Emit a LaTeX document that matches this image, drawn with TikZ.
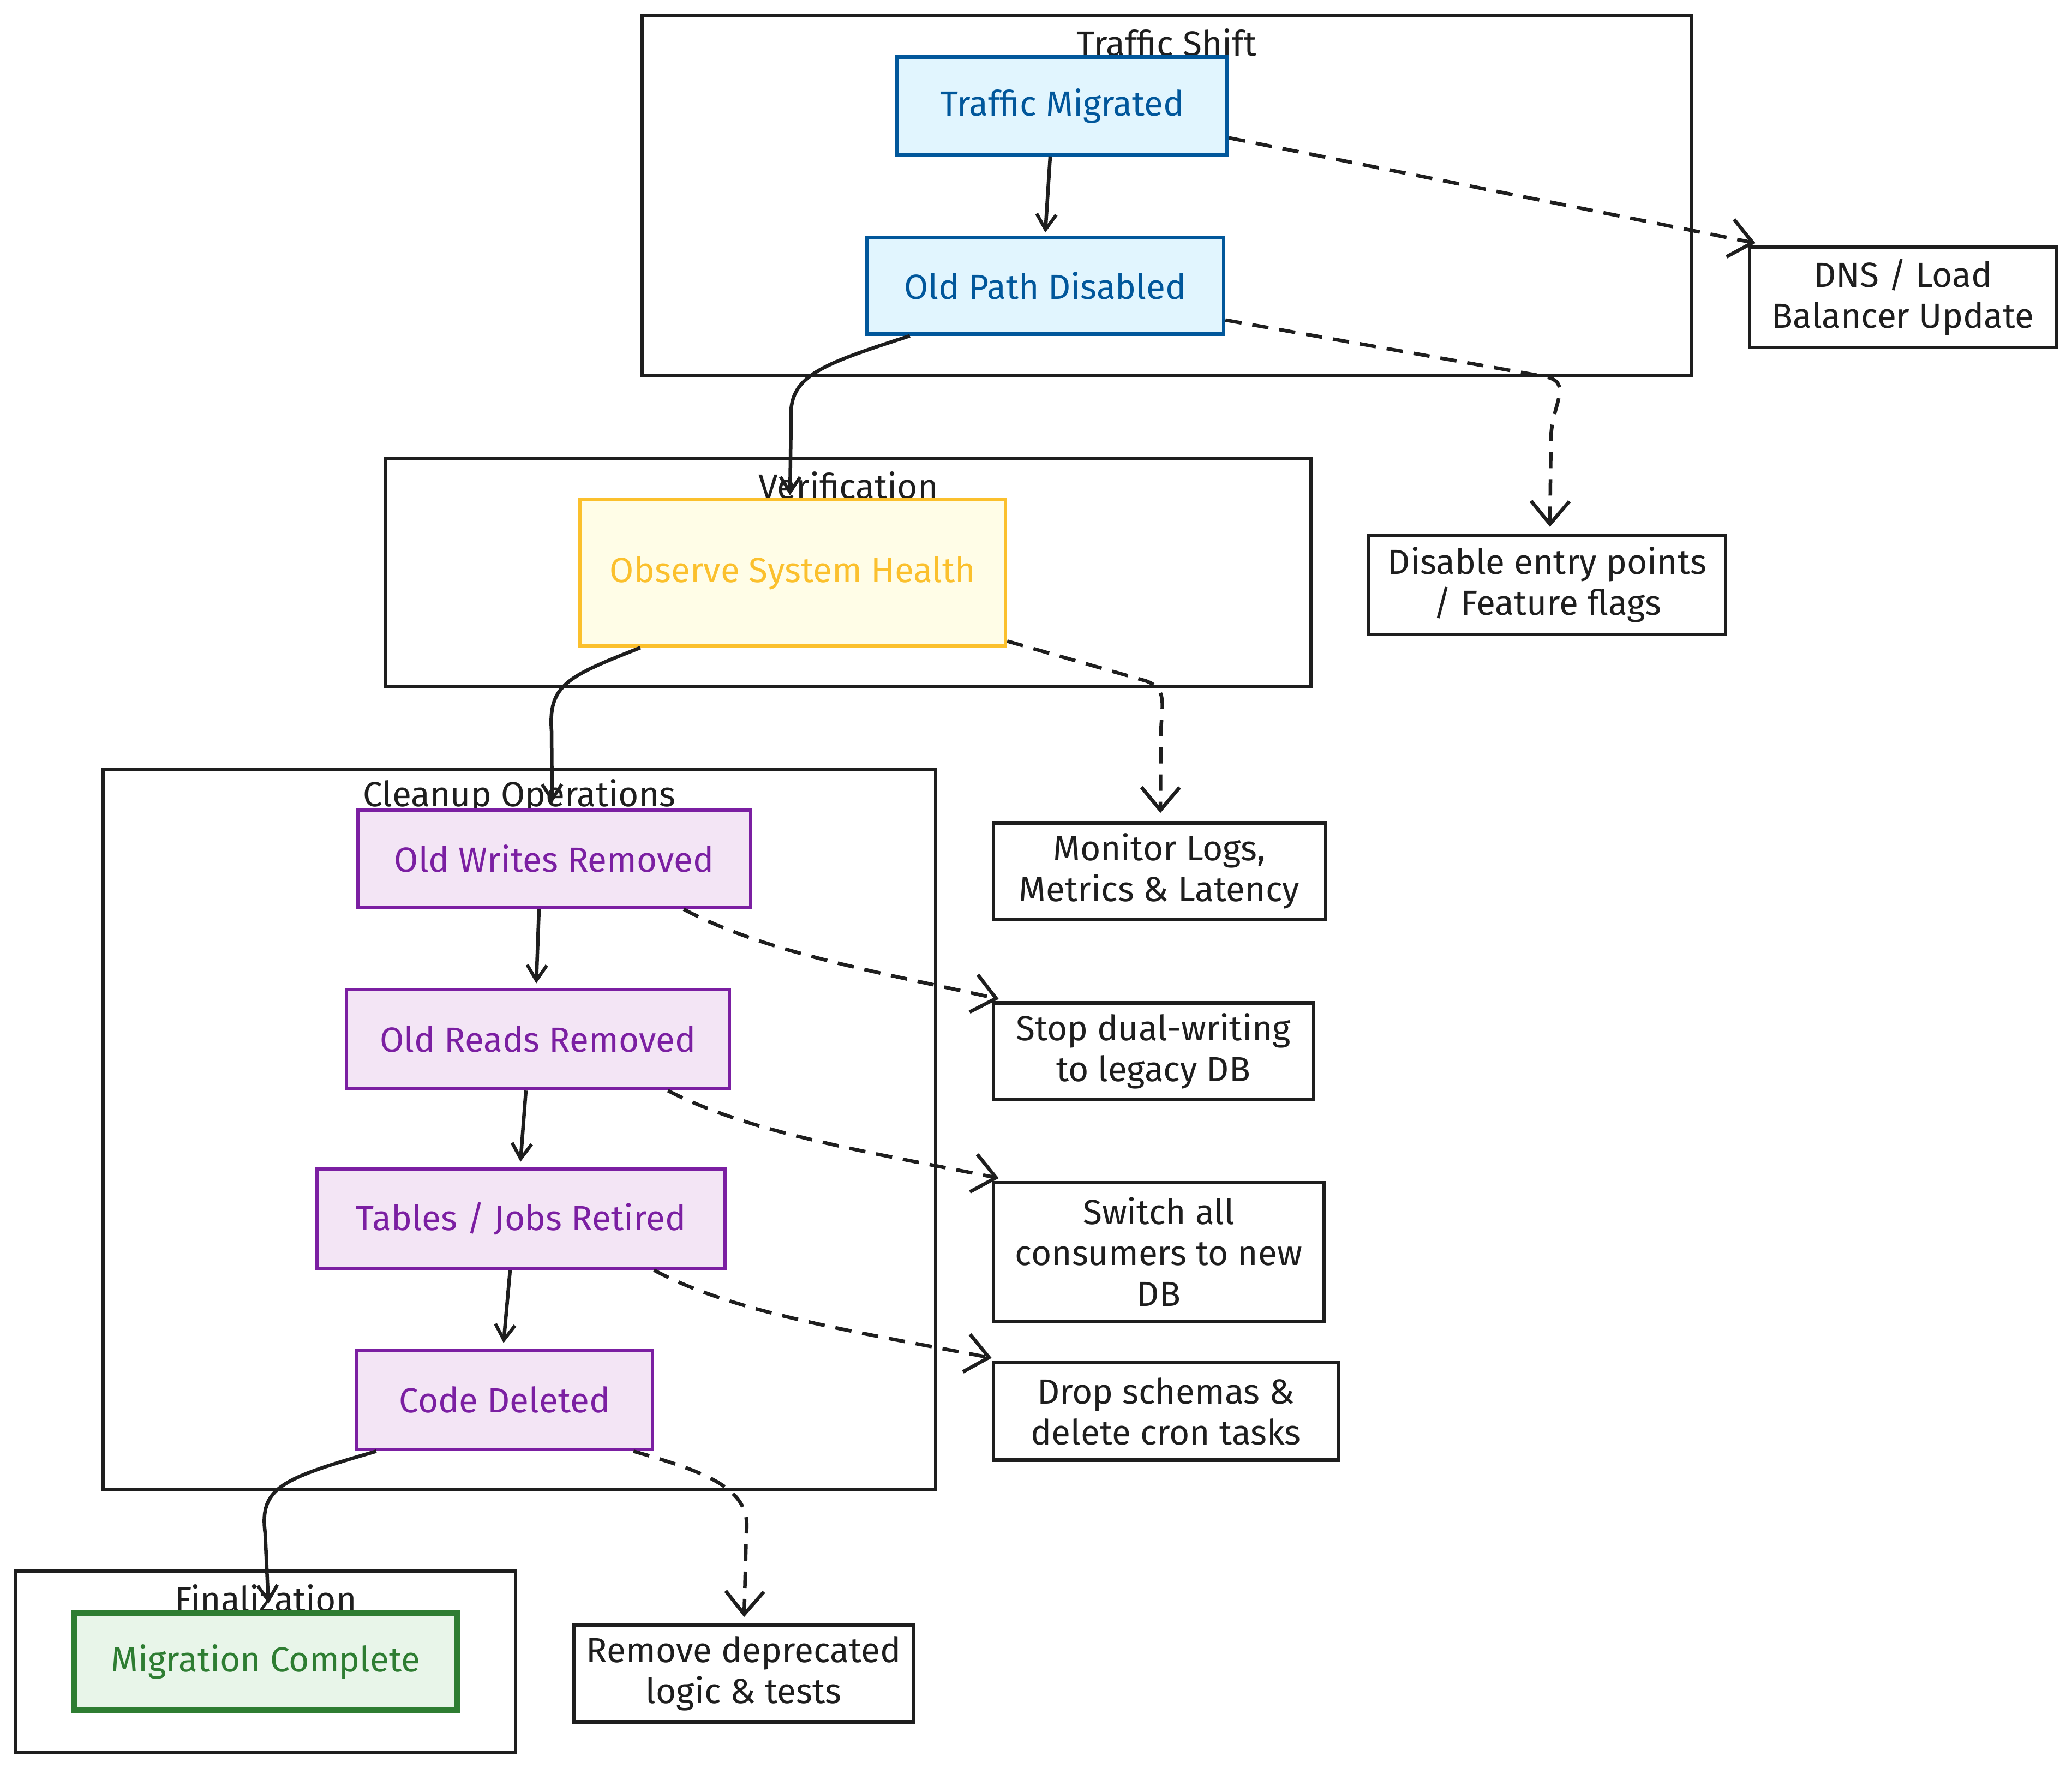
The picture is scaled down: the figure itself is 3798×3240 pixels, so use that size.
\documentclass[tikz,border=0pt]{standalone}
\usepackage{fontspec}
\setmainfont{Fira Sans}
\usetikzlibrary{arrows.meta,calc}
\definecolor{ink}{HTML}{1E1E1E}
\definecolor{blueS}{HTML}{01579B}
\definecolor{blueF}{HTML}{E1F5FE}
\definecolor{yelS}{HTML}{FBC02D}
\definecolor{yelF}{HTML}{FFFDE7}
\definecolor{purS}{HTML}{7B1FA2}
\definecolor{purF}{HTML}{F3E5F5}
\definecolor{grnS}{HTML}{2E7D32}
\definecolor{grnF}{HTML}{E8F5E9}
\tikzset{
  txt/.style={font=\fontsize{64}{75}\selectfont, align=center, inner sep=0pt},
  cluster/.style={draw=ink, line width=6pt, fill=none, inner sep=0pt},
  ctitle/.style={txt, text=ink},
  box/.style={txt, line width=6.5pt},
  bluebox/.style={box, draw=blueS, fill=blueF, text=blueS},
  yelbox/.style={box, draw=yelS, fill=yelF, text=yelS},
  purbox/.style={box, draw=purS, fill=purF, text=purS},
  grnbox/.style={box, draw=grnS, fill=grnF, text=grnS, line width=11pt},
  notebox/.style={box, draw=ink, fill=white, text=ink},
  flow/.style={draw=ink, line width=6.5pt, -{Straight Barb[length=28pt,width=36pt,line width=6pt]}},
  dflow/.style={draw=ink, line width=6.5pt, dash pattern=on 30pt off 20pt, -{Straight Barb[length=42pt,width=70pt,line width=6.5pt]}},
}
\begin{document}
\begin{tikzpicture}[x=1pt,y=-1pt]
\useasboundingbox (0,0) rectangle (3798,3240);
\fill[white] (0,0) rectangle (3798,3240);

% clusters
\node[cluster, minimum width=1923pt, minimum height=659pt] (ts) at (2138.5,358.5) {};
\node[ctitle] (tsT) at (2138.5,78) {Traffic Shift};
\node[cluster, minimum width=1696pt, minimum height=419pt] (ver) at (1555,1049.5) {};
\node[ctitle] (verT) at (1555,890) {Verification};
\node[cluster, minimum width=1526pt, minimum height=1320pt] (cln) at (952,2070) {};
\node[ctitle] (clnT) at (952,1460) {Cleanup Operations};
\node[cluster, minimum width=916pt, minimum height=332pt] (fin) at (487,3046) {};
\node[ctitle] (finT) at (487,2930) {Finalization};

% main nodes
\node[bluebox, minimum width=605pt, minimum height=179pt] (tm) at (1947,194) {Traffic Migrated};
\node[bluebox, minimum width=654pt, minimum height=177pt] (opd) at (1916,524) {Old Path Disabled};
\node[yelbox, minimum width=780pt, minimum height=268pt] (osh) at (1453,1050) {Observe System Health};
\node[purbox, minimum width=720pt, minimum height=179pt] (owr) at (1016,1574) {Old Writes Removed};
\node[purbox, minimum width=702pt, minimum height=182pt] (orr) at (986,1905) {Old Reads Removed};
\node[purbox, minimum width=749pt, minimum height=182pt] (tjr) at (955,2234) {Tables / Jobs Retired};
\node[purbox, minimum width=542pt, minimum height=182pt] (cd) at (925,2566) {Code Deleted};
\node[grnbox, minimum width=703pt, minimum height=178pt] (mc) at (487,3046) {Migration Complete};

% notes
\node[notebox, minimum width=562pt, minimum height=184pt] (dns) at (3488,545) {DNS / Load\\Balancer Update};
\node[notebox, minimum width=654pt, minimum height=182pt] (dis) at (2836,1072) {Disable entry points\\/ Feature flags};
\node[notebox, minimum width=608pt, minimum height=177pt] (mon) at (2125,1597) {Monitor Logs,\\Metrics \& Latency};
\node[notebox, minimum width=586pt, minimum height=177pt] (stop) at (2114,1927) {Stop dual-writing\\to legacy DB};
\node[notebox, minimum width=606pt, minimum height=254pt] (sw) at (2124,2295) {Switch all\\consumers to new\\DB};
\node[notebox, minimum width=632pt, minimum height=179pt] (drop) at (2137,2587) {Drop schemas \&\\delete cron tasks};
\node[notebox, minimum width=623pt, minimum height=177pt] (rem) at (1363,3068) {Remove deprecated\\logic \& tests};

% solid flow
\draw[flow] ($(tm.south)+(-22,0)$) -- ($(opd.north)+(0,-6)$);
\draw[flow] ($(opd.south west)+(82,0)$) .. controls (1500,670) and (1445,690) .. (1450,770) -- ($(osh.north)+(-5,-5)$);
\draw[flow] ($(osh.south west)+(114,0)$) .. controls (1040,1240) and (1005,1255) .. (1011,1340) -- ($(owr.north)+(-4,-10)$);
\draw[flow] ($(owr.south)+(-28,0)$) -- ($(orr.north)+(-3,-8)$);
\draw[flow] ($(orr.south)+(-22,0)$) -- ($(tjr.north)+(-1,-10)$);
\draw[flow] ($(tjr.south)+(-20,0)$) -- ($(cd.north)+(-2,-10)$);
\draw[flow] ($(cd.south west)+(39,0)$) .. controls (520,2710) and (475,2725) .. (486,2810) -- ($(mc.north)+(5,-12)$);

% dashed notes
\draw[dflow] ($(tm.south east)+(0,-34)$) -- ($(dns.north west)+(14,-4)$);
\draw[dflow] ($(opd.south east)+(0,-29)$) -- (2830,690) .. controls (2885,700) and (2845,740) .. (2843,800) -- ($(dis.north)+(5,-12)$);
\draw[dflow] ($(osh.south east)+(0,-12)$) -- (2100,1248) .. controls (2140,1262) and (2130,1290) .. (2128,1340) -- ($(mon.north)+(2,-15)$);
\draw[dflow] ($(owr.south east)+(-126,0)$) .. controls (1400,1745) and (1600,1780) .. ($(stop.north west)+(13,-4)$);
\draw[dflow] ($(orr.south east)+(-116,0)$) .. controls (1370,2075) and (1580,2110) .. ($(sw.north west)+(13,-5)$);
\draw[dflow] ($(tjr.south east)+(-134,0)$) .. controls (1340,2405) and (1560,2440) .. ($(drop.north west)+(0,-5)$);
\draw[dflow] ($(cd.south east)+(-38,0)$) .. controls (1300,2700) and (1378,2730) .. (1368,2810) -- ($(rem.north)+(1,-12)$);
\end{tikzpicture}
\end{document}
